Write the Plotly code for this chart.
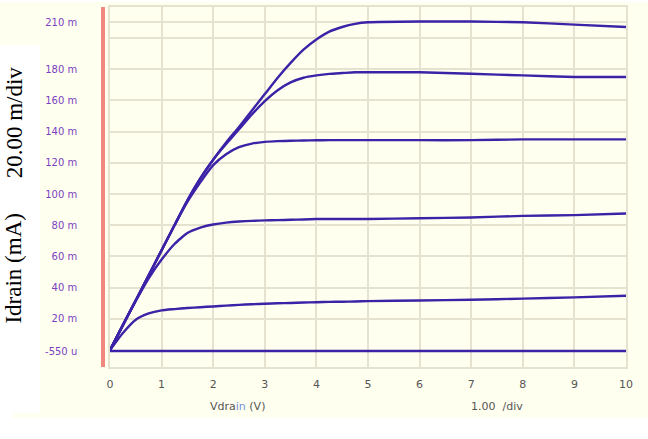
import plotly.graph_objects as go

# ---- data ----
vdrain = [0, 0.25, 0.5, 0.75, 1, 1.25, 1.5, 1.75, 2, 2.25, 2.5, 2.75, 3, 3.25, 3.5, 3.75,
          4, 4.25, 4.5, 4.75, 5, 6, 7, 8, 9, 10]

idrain_vg6 = [0, 16, 32, 48, 64, 80, 96, 110, 122, 133, 143, 153.5, 164, 174.5, 184, 192.5,
              199, 204, 207, 209, 210, 210.5, 210.5, 210, 208.5, 207]
idrain_vg5 = [0, 16, 32, 48, 64, 80, 96, 110, 122, 132, 141.5, 151, 159.5, 166.5, 171.5, 174.5,
              176, 177, 177.5, 178, 178, 178, 177, 176, 175, 175]
idrain_vg4 = [0, 16, 32, 48, 64, 80, 95, 107.5, 118.5, 125.5, 130, 132.3, 133.4, 133.9, 134.1, 134.3,
              134.4, 134.5, 134.5, 134.5, 134.5, 134.5, 134.5, 135, 135, 135]
idrain_vg3 = [0, 16, 31.5, 46, 58, 68, 75, 78.5, 80.5, 81.7, 82.4, 82.8, 83.1, 83.3, 83.5, 83.7,
              84, 84, 84, 84, 84, 84.5, 85, 86, 86.5, 87.5]
idrain_vg2 = [0, 11, 19.5, 23.5, 25.5, 26.3, 27, 27.5, 28, 28.5, 29, 29.4, 29.7, 30, 30.2, 30.5,
              30.7, 30.9, 31, 31.2, 31.4, 31.8, 32.3, 33, 33.8, 34.8]
idrain_vg1 = [-0.55] * len(vdrain)

series = [idrain_vg1, idrain_vg2, idrain_vg3, idrain_vg4, idrain_vg5, idrain_vg6]

y_tickvals = [-0.55, 20, 40, 60, 80, 100, 120, 140, 160, 180, 200, 210]
y_ticktext = ["-550 u", "20 m", "40 m", "60 m", "80 m", "100 m", "120 m", "140 m",
              "160 m", "180 m", "", "210 m"]
x_tickvals = list(range(0, 11))

CURVE = "#3C22A6"
GRID = "#E6E2D0"
CREAM = "#FFFFEF"

fig = go.Figure()
for s in series:
    fig.add_trace(go.Scatter(x=vdrain, y=s, mode="lines",
                             line=dict(color=CURVE, width=2.4, shape="spline", smoothing=0.5),
                             showlegend=False, hoverinfo="skip"))

fig.update_layout(
    width=648, height=439,
    margin=dict(l=110, r=22, t=5, b=72),
    paper_bgcolor="white",
    plot_bgcolor=CREAM,
    showlegend=False,
    xaxis=dict(range=[0, 10], tickvals=x_tickvals, showgrid=True, gridcolor=GRID, gridwidth=1.5,
               zeroline=False, showline=True, linecolor=GRID, linewidth=1.5, mirror=True,
               ticks="", ticklabelstandoff=6,
               tickfont=dict(family="DejaVu Sans", size=11, color="#555555")),
    yaxis=dict(range=[-10.8, 219.8], tickvals=y_tickvals, ticktext=y_ticktext,
               showgrid=True, gridcolor=GRID, gridwidth=1.5,
               zeroline=False, showline=True, linecolor=GRID, linewidth=1.5, mirror=True,
               ticks="", ticklabelstandoff=29,
               tickfont=dict(family="DejaVu Sans", size=10, color="#7A3FC2")),
    shapes=[
        # cream page background
        dict(type="rect", xref="paper", yref="paper", x0=-110/516, x1=1 + 22/516,
             y0=-51/362, y1=1 + 5/362, fillcolor=CREAM, line=dict(width=0), layer="below"),
        # white box behind vertical label
        dict(type="rect", xref="paper", yref="paper", x0=-110/516, x1=-70/516,
             y0=-(51 - 5)/362, y1=1 - 38/362, fillcolor="white", line=dict(width=0), layer="below"),
        dict(type="rect", xref="paper", yref="paper", x0=-110/516, x1=-97/516,
             y0=-51/362, y1=0.05, fillcolor="white", line=dict(width=0), layer="below"),
        # 210 m reference line
        dict(type="line", xref="paper", yref="y", x0=0, x1=1, y0=210, y1=210,
             line=dict(color="#D8C2B4", width=1.5), layer="below"),
        # red vertical bar left of the plot
        dict(type="line", xref="paper", yref="paper", x0=-7/516, x1=-7/516, y0=0, y1=1,
             line=dict(color="#F2877F", width=4)),
    ],
    annotations=[
        dict(text="Vdra<span style='color:#6F8FD8'>in</span> (V)", xref="paper", yref="paper",
             x=(237 - 110)/516, y=-(407 - 367)/362, showarrow=False,
             xanchor="center", yanchor="middle",
             font=dict(family="DejaVu Sans", size=11, color="#555555")),
        dict(text="1.00  /div", xref="paper", yref="paper",
             x=(497 - 110)/516, y=-(407 - 367)/362, showarrow=False,
             xanchor="center", yanchor="middle",
             font=dict(family="DejaVu Sans", size=11, color="#555555")),
        dict(text="Idrain (mA)", xref="paper", yref="paper", textangle=-90,
             x=-(110 - 14)/516, y=(367 - 268)/362, showarrow=False,
             xanchor="center", yanchor="middle",
             font=dict(family="Liberation Serif", size=23, color="black")),
        dict(text="20.00 m/div", xref="paper", yref="paper", textangle=-90,
             x=-(110 - 14)/516, y=(367 - 121)/362, showarrow=False,
             xanchor="center", yanchor="middle",
             font=dict(family="Liberation Serif", size=23, color="black")),
    ],
)

fig.write_html("out.html")
